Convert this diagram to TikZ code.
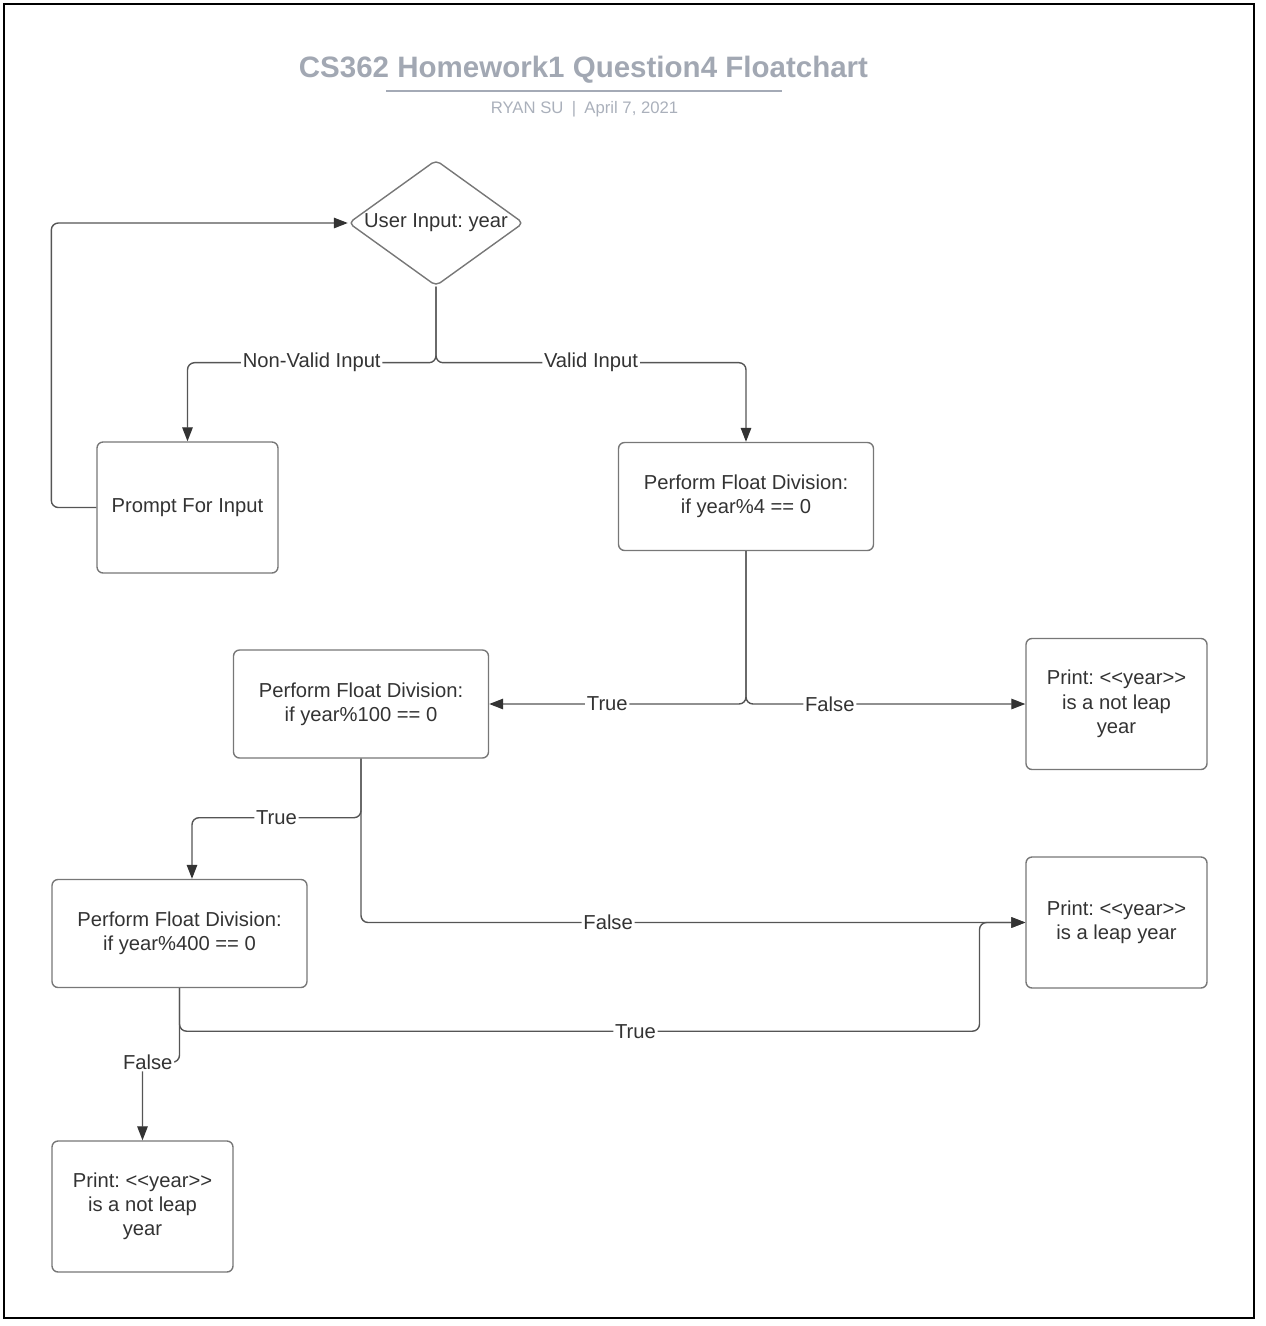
\documentclass[tikz,border=0pt]{standalone}
\usepackage{fontspec}
\setmainfont{Liberation Sans}
\usepackage{xcolor}
\definecolor{chartText}{HTML}{333333}
\definecolor{chartLine}{HTML}{555555}
\definecolor{chartTip}{HTML}{333333}
\definecolor{chartBorder}{HTML}{777777}
\definecolor{chartTitle}{HTML}{A2A8B3}
\definecolor{chartSub}{HTML}{AAB0BB}
\definecolor{chartRule}{HTML}{A4AAB6}
\usetikzlibrary{shapes.geometric,arrows.meta,positioning}
\newcommand{\chartfont}{\fontsize{11.5}{13.8}\selectfont}
\frenchspacing
\tikzset{
    divbox/.style={
        draw=chartBorder,
        rectangle,
        rounded corners=1.2mm,
        align=center,
        minimum width=5.1cm,
        minimum height=2.16cm,
        line width=0.8pt,
        text=chartText,
        font=\chartfont
    },
    printbox/.style={
        divbox,
        minimum width=3.62cm,
        minimum height=2.62cm
    },
    decision/.style={
        draw=chartBorder,
        diamond,
        rounded corners=1mm,
        inner sep=0pt,
        minimum width=3.5cm,
        minimum height=2.52cm,
        line width=0.8pt,
        text=chartText,
        font=\chartfont
    },
    arrow/.style={
        -{Triangle[length=8pt,width=6pt,color=chartTip]},
        line width=0.8pt,
        draw=chartLine,
        rounded corners=4pt
    },
    edgetext/.style={
        font=\chartfont,
        text=chartText,
        fill=white,
        inner sep=1pt
    }
}

\begin{document}
\begin{tikzpicture}[x=0.02cm, y=-0.02cm]
    \useasboundingbox (0,0) rectangle (1266,1326);
    \draw[line width=1.3pt, black] (4,4) rectangle (1254,1318);

    % Heading
    \node[font=\fontsize{16.8}{20}\selectfont\bfseries, text=chartTitle] (title) at (583.5,70) {CS362 Homework1 Question4 Floatchart};
    \draw[line width=1.7pt, chartRule] (386,91) -- (782,91);
    \node[font=\fontsize{9.5}{11}\selectfont, text=chartSub] (byline) at (584.5,109) {RYAN SU\enspace|\enspace April 7, 2021};

    % Input and validation
    \node[decision] (input) at (436,223) {\makebox[0pt]{User Input: year}};
    \node[printbox] (prompt) at (187.5,507.5) {Prompt For Input};
    \node[divbox] (mod4) at (746,496.5) {Perform Float Division:\\if year\%4 == 0};

    % Leap year checks
    \node[divbox] (mod100) at (361,704) {Perform Float Division:\\if year\%100 == 0};
    \node[printbox] (notleapA) at (1116.5,704) {Print: <{}<year>{}>\\is a not leap\\year};
    \node[divbox] (mod400) at (179.5,933.5) {Perform Float Division:\\if year\%400 == 0};
    \node[printbox] (leap) at (1116.5,922.5) {Print: <{}<year>{}>\\is a leap year};
    \node[printbox] (notleapB) at (142.5,1206.5) {Print: <{}<year>{}>\\is a not leap\\year};

    % Arrows
    \draw[arrow] (input.south) -- ++(0,76) -| node[edgetext, pos=0.25] {Non-Valid Input} (prompt.north);
    \draw[arrow] (input.south) -- ++(0,76) -| node[edgetext, pos=0.25] {Valid Input} (mod4.north);
    \draw[arrow] (prompt.west) -- ++(-45,0) |- (input.west);
    \draw[arrow] (mod4.south) |- node[edgetext, pos=0.77] {True} (mod100.east);
    \draw[arrow] (mod4.south) |- node[edgetext, pos=0.65] {False} (notleapA.west);
    \draw[arrow] (mod100.south) -- ++(0,59) -| node[edgetext, pos=0.25] {True} ([xshift=0.25cm]mod400.north);
    \draw[arrow] (mod100.south) |- node[edgetext, pos=0.686] {False} (leap.west);
    \draw[arrow] (mod400.south) -- ++(0,43) -- node[edgetext, pos=0.57] {True} ++(800,0) |- (leap.west);
    \draw[arrow] (mod400.south) -- ++(0,74) -| node[edgetext, pos=0.5, xshift=3pt] {False} (notleapB.north);
\end{tikzpicture}
\end{document}
